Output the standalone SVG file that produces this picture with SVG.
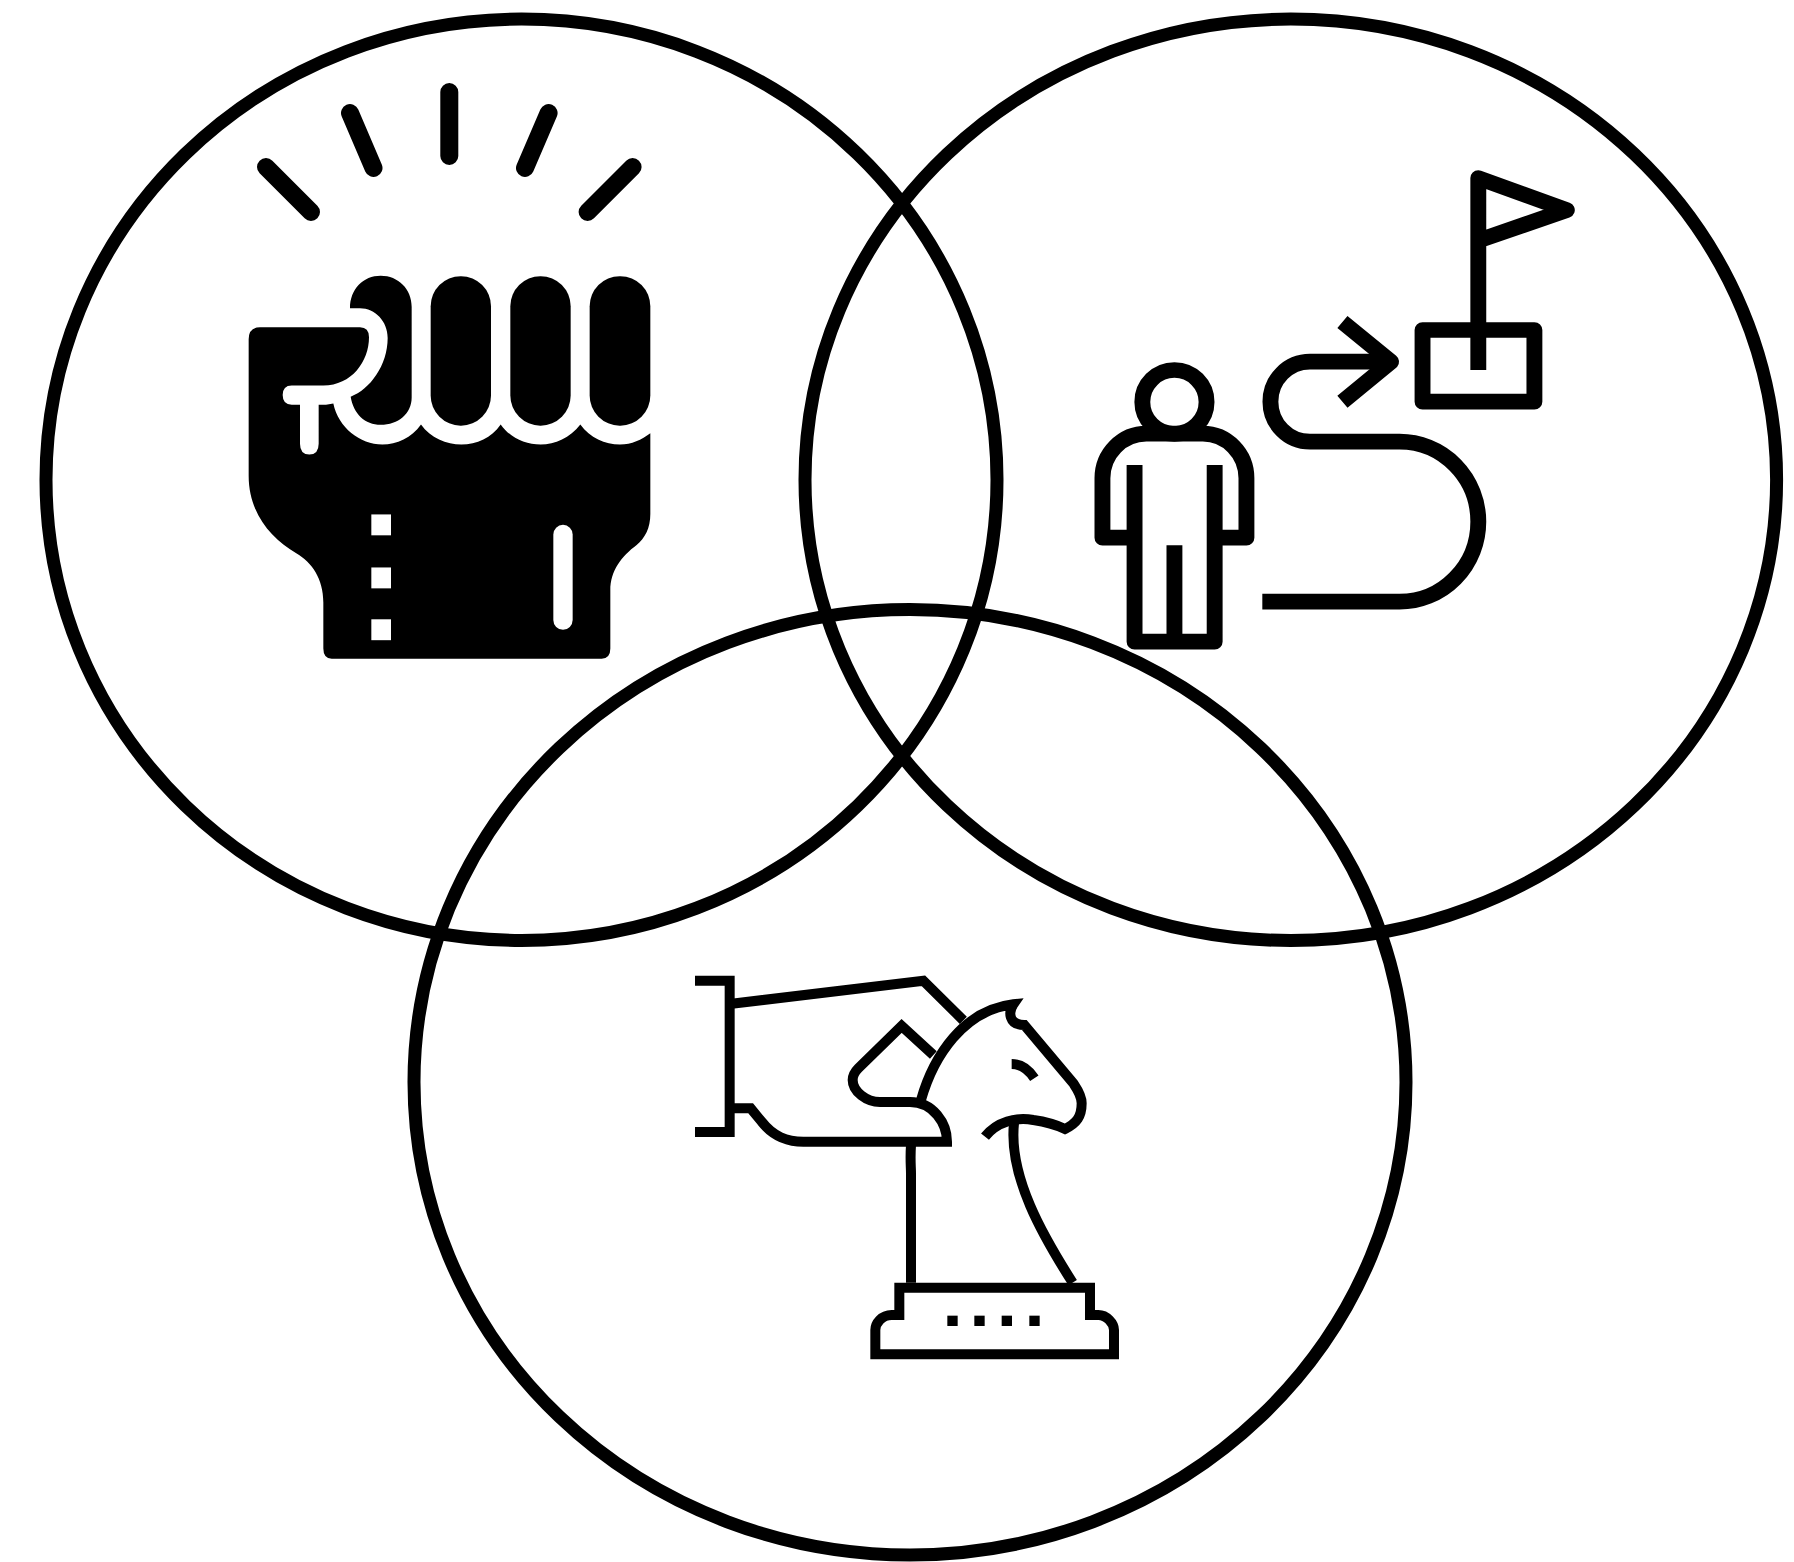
<svg xmlns="http://www.w3.org/2000/svg" width="1794" height="1562" viewBox="0 0 1794 1562">
<style>
.ring{fill:none;stroke:#000;stroke-width:13}
.ln{fill:none;stroke:#000;stroke-linejoin:round}
.mit{fill:none;stroke:#000;stroke-linejoin:miter;stroke-miterlimit:4}
.ray{fill:none;stroke:#000;stroke-width:18;stroke-linecap:round}
.hole{fill:#fff}
</style>
<rect width="1794" height="1562" fill="#fff"/>
<g id="rings">
<ellipse class="ring" cx="521.5" cy="479.8" rx="475.5" ry="460.7"/>
<ellipse class="ring" cx="1290.8" cy="479.8" rx="485.8" ry="460.7"/>
<ellipse class="ring" cx="910" cy="1082.3" rx="496" ry="472.7"/>
</g>
<g id="rays">
<path class="ray" d="M449.3 92V156M350 113L373.5 168M548.6 113L525 168M266 167L311 212M632.6 167L587.6 212"/>
</g>
<g id="fist" transform="translate(220 60) scale(.33333 .40179)">
<path d="M86 695Q86 665 120 665H420Q447 665 447 690C447 750 395 810 310 810H215Q188 810 188 834Q188 858 215 858H240V955Q240 982 268 982Q296 982 296 955V858H318L340 855C355 915 420 957 487 957C530 957 575 940 603 907C631 940 680 957 724 957C770 957 815 940 842 907C870 940 915 957 962 957C1005 957 1050 940 1081 907C1110 940 1155 957 1200 957C1235 957 1265 945 1291 929V1130C1291 1165 1275 1190 1250 1207C1205 1235 1171 1270 1171 1320V1465Q1171 1490 1145 1490H335Q310 1490 310 1465V1350C310 1290 275 1250 230 1228C150 1190 86 1125 86 1035Z"/>
<rect class="hole" x="454" y="1131" width="59" height="52"/>
<rect class="hole" x="454" y="1263" width="59" height="52"/>
<rect class="hole" x="454" y="1392" width="59" height="52"/>
<rect class="hole" x="1000" y="1157" width="58" height="261" rx="29" ry="24"/>
<path d="M390 618C390 570 430 537 482 537C535 537 575 570 575 615V840C575 880 535 908 482 908C435 908 400 880 392 838C450 820 503 760 503 692C503 650 465 618 420 618Z"/>
<rect x="632" y="538" width="181" height="372" rx="90" ry="75"/>
<rect x="871" y="538" width="181" height="372" rx="90" ry="75"/>
<rect x="1109" y="538" width="182" height="372" rx="90" ry="75"/>
</g>
<g id="journey" class="ln" stroke-width="47" transform="translate(1070 150) scale(.338 .33333)">
<ellipse cx="309" cy="756" rx="95" ry="96"/>
<path d="M191 1163H96V985A130 134 0 0 1 226 851H393A129 134 0 0 1 522 985V1163H428"/>
<path d="M191 945V1475H428V945M309 1186V1475"/>
<path d="M569 1355H975A233 240 0 0 0 975 875H710A117 120 0 0 1 710 635H950"/>
<path d="M806 516L950 635L806 755"/>
<path d="M1208 660V84L1470 180L1208 272"/>
<rect x="1043" y="540" width="331" height="215"/>
</g>
<g id="chess" class="mit" stroke-width="30" transform="translate(680 960) scale(.33333)">
<path d="M45 62H149V516H45"/>
<path d="M149 132L730 62L850 181"/>
<path d="M149 445H212L245 485C280 530 320 545 370 545H801C801 490 760 426 690 426H600C560 426 518 395 518 360C518 345 525 335 535 325L665 198L760 285"/>
<path d="M723 420C760 290 850 150 1000 133C985 155 985 195 1033 195L1180 370C1190 385 1205 405 1205 430C1205 470 1190 490 1155 507C1130 495 1095 485 1060 480C1010 470 950 485 915 530"/>
<path d="M995 312C1030 312 1050 335 1063 355"/>
<path d="M1002 490C985 650 1090 830 1178 968"/>
<path d="M693 555C690 600 693 620 693 640V968"/>
<path d="M658 983V1065H635C605 1065 586 1090 586 1110V1183H1302V1110C1302 1090 1280 1065 1255 1065H1230V983Z"/>
<g fill="#000" stroke="none">
<rect x="802" y="1067" width="31" height="31"/>
<rect x="883" y="1067" width="31" height="31"/>
<rect x="965" y="1067" width="31" height="31"/>
<rect x="1048" y="1067" width="31" height="31"/>
</g>
</g>
</svg>
